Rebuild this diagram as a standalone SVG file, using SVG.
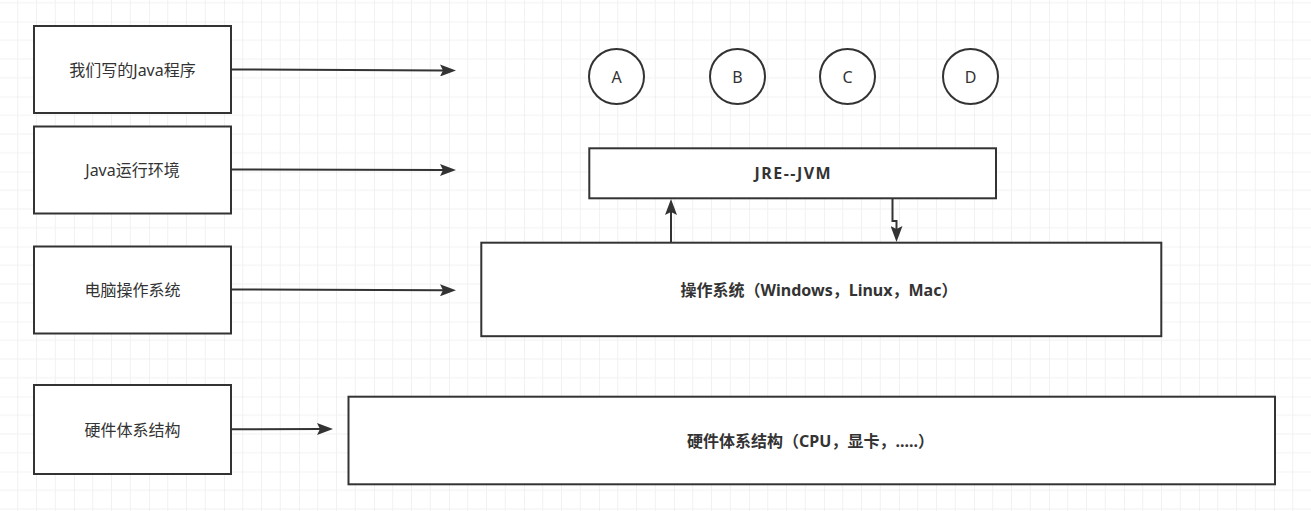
<svg xmlns="http://www.w3.org/2000/svg" width="1311" height="511" viewBox="0 0 1311 511">
  <style>
    .box { fill: #ffffff; stroke: #333333; stroke-width: 2; }
    .conn { fill: none; stroke: #333333; stroke-width: 2; }
    .lbl { font-family: "Noto Sans", "Noto Sans CJK SC", sans-serif; font-size: 16px; fill: #333333; text-anchor: middle; dominant-baseline: central; }
    .bold { font-weight: bold; }
  </style>
  <defs>
    <pattern id="grid" patternUnits="userSpaceOnUse" x="-1" y="21.5" width="75" height="75">
      <path d="M18.75 0V75M37.5 0V75M56.25 0V75M0 18.75H75M0 37.5H75M0 56.25H75" stroke="#f1f1f1" stroke-width="1" fill="none"/>
      <path d="M0 0V75M0 0H75" stroke="#e5e5e5" stroke-width="1" fill="none"/>
    </pattern>
    <marker id="arrow" viewBox="0 0 16 12" markerUnits="userSpaceOnUse" markerWidth="16" markerHeight="12" refX="3" refY="6" orient="auto">
      <path d="M0 0L16 6L0 12L3 6Z" fill="#333333"/>
    </marker>
  </defs>
  <rect x="0" y="0" width="1311" height="511" fill="#ffffff"/>
  <rect x="0" y="0" width="1311" height="511" fill="url(#grid)"/>

  <g id="connectors">
    <path class="conn" d="M231 69.5L443 70.5" marker-end="url(#arrow)"/>
    <path class="conn" d="M231 169.5L443 170" marker-end="url(#arrow)"/>
    <path class="conn" d="M231 289.5L443 290.3" marker-end="url(#arrow)"/>
    <path class="conn" d="M231 429.3L320 429" marker-end="url(#arrow)"/>
    <path class="conn" d="M671 242V212" marker-end="url(#arrow)"/>
    <path class="conn" d="M892.5 198V221H896.5V229" marker-end="url(#arrow)"/>
  </g>

  <g id="n-program">
    <rect class="box" x="34" y="26" width="197" height="87"/>
    <text class="lbl" x="132.5" y="70">我们写的Java程序</text>
  </g>
  <g id="n-runtime">
    <rect class="box" x="34" y="126.5" width="197" height="87"/>
    <text class="lbl" x="132.5" y="170">Java运行环境</text>
  </g>
  <g id="n-os-left">
    <rect class="box" x="34" y="246.5" width="197" height="87"/>
    <text class="lbl" x="132.5" y="290">电脑操作系统</text>
  </g>
  <g id="n-hw-left">
    <rect class="box" x="34" y="385" width="197" height="89"/>
    <text class="lbl" x="132.5" y="430">硬件体系结构</text>
  </g>

  <g id="n-a">
    <circle class="box" cx="616.5" cy="76.5" r="27.5"/>
    <text class="lbl" x="616.5" y="77">A</text>
  </g>
  <g id="n-b">
    <circle class="box" cx="737.5" cy="76.5" r="27.5"/>
    <text class="lbl" x="737.5" y="77">B</text>
  </g>
  <g id="n-c">
    <circle class="box" cx="847.5" cy="76.5" r="27.5"/>
    <text class="lbl" x="847.5" y="77">C</text>
  </g>
  <g id="n-d">
    <circle class="box" cx="970.5" cy="76.5" r="27.5"/>
    <text class="lbl" x="970.5" y="77">D</text>
  </g>

  <g id="n-jre">
    <rect class="box" x="589.3" y="148.3" width="406.7" height="50"/>
    <text class="lbl bold" x="793.3" y="173" letter-spacing="1.5">JRE--JVM</text>
  </g>
  <g id="n-os">
    <rect class="box" x="481.3" y="242.7" width="680" height="93.5"/>
    <text class="lbl bold" x="819" y="290">操作系统（Windows，Linux，Mac）</text>
  </g>
  <g id="n-hw">
    <rect class="box" x="348.5" y="396.7" width="926.5" height="87.6"/>
    <text class="lbl bold" x="810.5" y="440.5">硬件体系结构（CPU，显卡，.....）</text>
  </g>
</svg>
